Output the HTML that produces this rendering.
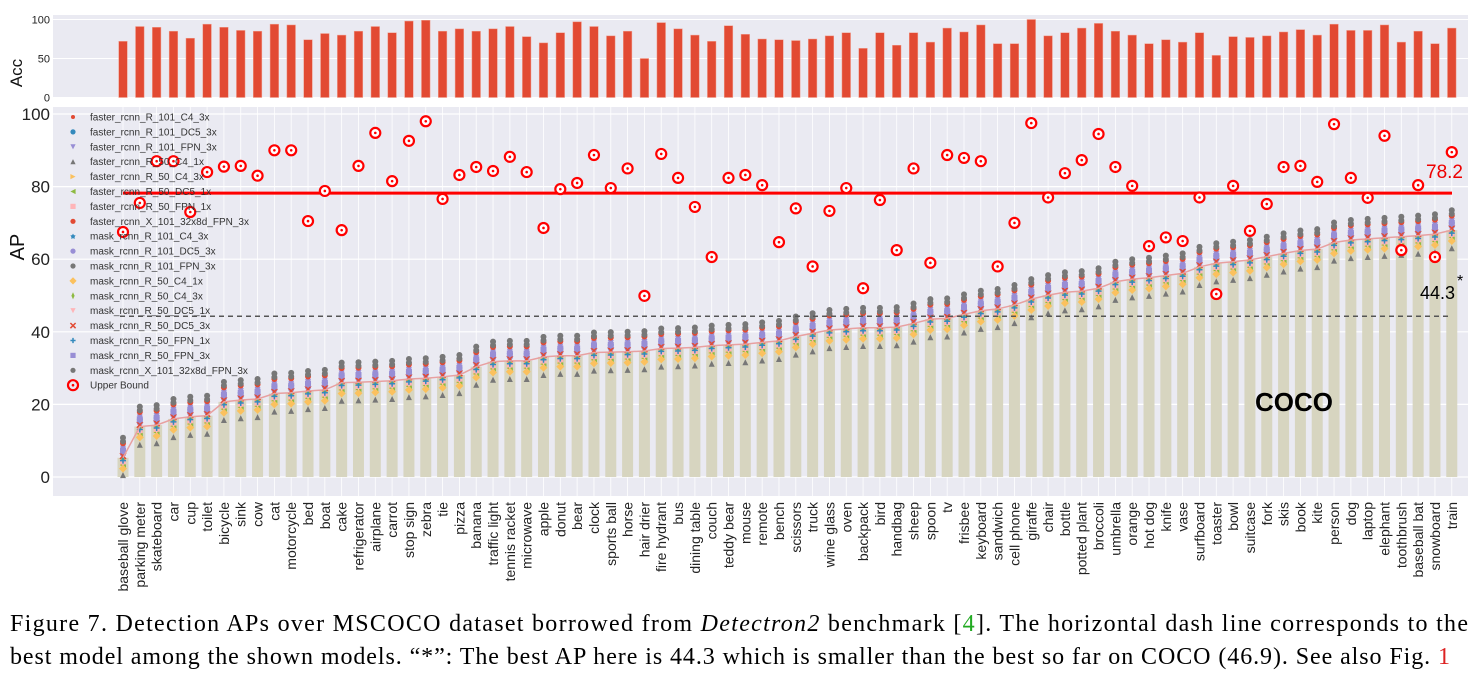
<!DOCTYPE html>
<html><head><meta charset="utf-8"><style>
html,body{margin:0;padding:0;background:#fff;}
svg{display:block;font-family:"Liberation Sans",sans-serif;}
</style></head><body>
<svg id="chart" width="1478" height="681" xmlns="http://www.w3.org/2000/svg">
<rect x="53" y="15" width="1415" height="83" fill="#eaeaf2"/>
<rect x="53" y="107" width="1415" height="389" fill="#eaeaf2"/>
<g id="grid"></g>
<g id="accbars"></g>
<g id="apbars"></g>
<g id="marks"></g>
<g id="axes"></g>
<g id="legend"></g>
<text x="22" y="73" font-size="17" text-anchor="middle" transform="rotate(-90 22 73)" fill="#111">Acc</text>
<text x="24" y="247" font-size="20" text-anchor="middle" transform="rotate(-90 24 247)" fill="#111">AP</text>
<text x="1255" y="411" font-size="26" font-weight="bold" fill="#000">COCO</text>
<text x="1420" y="299" font-size="18" fill="#000">44.3</text>
<text x="1457" y="286" font-size="16" fill="#000">*</text>
<text x="1426" y="178" font-size="19" fill="#e00">78.2</text>
<text x="10" y="631" font-size="24" font-family="Liberation Serif, serif" textLength="1458" lengthAdjust="spacing" fill="#000">Figure 7. Detection APs over MSCOCO dataset borrowed from <tspan font-style="italic">Detectron2</tspan> benchmark [<tspan fill="#2a2">4</tspan>]. The horizontal dash line corresponds to the</text>
<text x="10" y="664" font-size="24" font-family="Liberation Serif, serif" textLength="1440" lengthAdjust="spacing" fill="#000">best model among the shown models. “*”: The best AP here is 44.3 which is smaller than the best so far on COCO (46.9). See also Fig. <tspan fill="#d22">1</tspan></text>
</svg>
<script>
const categories=["baseball glove","parking meter","skateboard","car","cup","toilet","bicycle","sink","cow","cat","motorcycle","bed","boat","cake","refrigerator","airplane","carrot","stop sign","zebra","tie","pizza","banana","traffic light","tennis racket","microwave","apple","donut","bear","clock","sports ball","horse","hair drier","fire hydrant","bus","dining table","couch","teddy bear","mouse","remote","bench","scissors","truck","wine glass","oven","backpack","bird","handbag","sheep","spoon","tv","frisbee","keyboard","sandwich","cell phone","giraffe","chair","bottle","potted plant","broccoli","umbrella","orange","hot dog","knife","vase","surfboard","toaster","bowl","suitcase","fork","skis","book","kite","person","dog","laptop","elephant","toothbrush","baseball bat","snowboard","train"];
const accValues=[72,91,90,85,76,94,90,86,85,94,93,74,82,80,85,91,83,98,99,85,88,85,88,91,78,70,83,97,91,79,85,50,96,88,80,72,92,81,75,74,73,75,79,83,63,83,67,83,71,89,84,93,69,69,100,79,83,89,95,85,80,69,74,71,83,54,78,77,79,84,87,80,94,86,86,93,71,85,69,89];
const meanAP=[5.3,13.9,14.3,16,16.6,16.9,20.7,21.2,21.5,23,23.2,23.7,24,26,26.1,26.3,26.5,27,27.2,27.6,28.1,30.4,31.8,32,32,33.1,33.4,33.4,34.3,34.4,34.5,34.7,35.4,35.5,35.7,36.2,36.4,36.6,37.1,37.5,38.7,39.6,40.5,40.8,41.1,41.1,41.3,42.3,43.5,43.7,44.8,45.8,46.3,47.4,49,50.1,50.9,51.2,52,53.8,54.5,54.9,55.5,56.1,57.9,58.9,59.3,59.8,60.7,61.6,62.4,62.8,64.6,65.3,65.6,65.9,66.2,66.5,66.9,68];
const upperBound=[67.5,75.5,87,87,73,84,85.5,85.7,83,90,90,70.5,78.8,68,85.7,94.8,81.5,92.6,98,76.6,83.2,85.4,84.3,88.2,84,68.6,79.3,81,88.7,79.6,85,49.9,89,82.4,74.4,60.6,82.4,83.2,80.4,64.7,74,58,73.3,79.6,52,76.3,62.5,85,59,88.7,87.9,87,58,70,97.5,77,83.7,87.3,94.5,85.4,80.2,63.6,66,65,77,50.4,80.2,67.8,75.2,85.4,85.7,81.3,97.2,82.4,76.9,94,62.5,80.4,60.6,89.5];
const seriesNames=["faster_rcnn_R_101_C4_3x","faster_rcnn_R_101_DC5_3x","faster_rcnn_R_101_FPN_3x","faster_rcnn_R_50_C4_1x","faster_rcnn_R_50_C4_3x","faster_rcnn_R_50_DC5_1x","faster_rcnn_R_50_FPN_1x","faster_rcnn_X_101_32x8d_FPN_3x","mask_rcnn_R_101_C4_3x","mask_rcnn_R_101_DC5_3x","mask_rcnn_R_101_FPN_3x","mask_rcnn_R_50_C4_1x","mask_rcnn_R_50_C4_3x","mask_rcnn_R_50_DC5_1x","mask_rcnn_R_50_DC5_3x","mask_rcnn_R_50_FPN_1x","mask_rcnn_R_50_FPN_3x","mask_rcnn_X_101_32x8d_FPN_3x"];
const seriesOffset=[3,2,2.5,-5,-1.5,-2,-1,4,1.5,1,4.5,-3,-0.5,-1.5,0.5,-0.8,2,5.5];
const accTicks=[0,50,100];
const apTicks=[0,20,40,60,80,100];
const bestAP=44.3, ubMean=78.2;

const NS="http://www.w3.org/2000/svg";
const cx=i=>123+i*16.82;
const yAcc=v=>97.5-v*0.78;
const yAP=v=>477-v*3.63;
function mk(tag,attrs,parent){const e=document.createElementNS(NS,tag);for(const k in attrs)e.setAttribute(k,attrs[k]);parent.appendChild(e);return e;}
const G=id=>document.getElementById(id);
const colors=["#e24a33","#348abd","#988ed5","#777777","#fbc15e","#8eba42","#ffb5b8","#e24a33","#348abd","#988ed5","#777777","#fbc15e","#8eba42","#ffb5b8","#e24a33","#348abd","#988ed5","#777777"];
const shapes=["dot","circle","tdown","tup","tright","tleft","square","hex","star","circle","hex","diamond","thin","tdown","x","plus","square","hex"];

accTicks.forEach(t=>{const l=mk('line',{x1:53,x2:1468,y1:yAcc(t),y2:yAcc(t),stroke:'#fff','stroke-width':1},G('grid'));
 const tx=mk('text',{x:50,y:yAcc(t)+4,'font-size':11,'text-anchor':'end',fill:'#222'},G('axes'));tx.textContent=t;});
apTicks.forEach(t=>{const l=mk('line',{x1:53,x2:1468,y1:yAP(t),y2:yAP(t),stroke:'#fff','stroke-width':1.2},G('grid'));
 const tx=mk('text',{x:50,y:yAP(t)+6,'font-size':17,'text-anchor':'end',fill:'#222'},G('axes'));tx.textContent=t;});
categories.forEach((c,i)=>{const l=mk('line',{x1:cx(i),x2:cx(i),y1:107,y2:496,stroke:'#fff','stroke-width':0.8},G('grid'));
 const tx=mk('text',{x:0,y:0,'font-size':14,'text-anchor':'end',fill:'#222',transform:`translate(${cx(i)+5},502) rotate(-90)`},G('axes'));tx.textContent=c;});

accValues.forEach((v,i)=>{const r=mk('rect',{x:cx(i)-4.3,y:yAcc(v),width:8.6,height:yAcc(0)-yAcc(v),fill:'#e24a33',stroke:'#f0a090','stroke-width':0.5},G('accbars'));});
meanAP.forEach((v,i)=>{const r=mk('rect',{x:cx(i)-5.5,y:yAP(v),width:11,height:yAP(0)-yAP(v),fill:'#d7d5c0'},G('apbars'));});

function marker(shape,x,y,col,parent,s){
 s=s||3;let e;
 switch(shape){
 case 'dot':e=mk('circle',{cx:x,cy:y,r:2,fill:col},parent);break;
 case 'circle':e=mk('circle',{cx:x,cy:y,r:s,fill:col},parent);break;
 case 'hex':e=mk('circle',{cx:x,cy:y,r:s,fill:col},parent);break;
 case 'square':e=mk('rect',{x:x-s,y:y-s,width:2*s,height:2*s,fill:col},parent);break;
 case 'tup':e=mk('polygon',{points:`${x},${y-s} ${x-s},${y+s} ${x+s},${y+s}`,fill:col},parent);break;
 case 'tdown':e=mk('polygon',{points:`${x},${y+s} ${x-s},${y-s} ${x+s},${y-s}`,fill:col},parent);break;
 case 'tright':e=mk('polygon',{points:`${x+s},${y} ${x-s},${y-s} ${x-s},${y+s}`,fill:col},parent);break;
 case 'tleft':e=mk('polygon',{points:`${x-s},${y} ${x+s},${y-s} ${x+s},${y+s}`,fill:col},parent);break;
 case 'diamond':e=mk('polygon',{points:`${x},${y-s-1} ${x+s+1},${y} ${x},${y+s+1} ${x-s-1},${y}`,fill:col},parent);break;
 case 'thin':e=mk('polygon',{points:`${x},${y-s-1} ${x+s-1},${y} ${x},${y+s+1} ${x-s+1},${y}`,fill:col},parent);break;
 case 'star':e=mk('polygon',{points:`${x},${y-s} ${x+1},${y-1} ${x+s},${y-1} ${x+1.5},${y+1} ${x+2},${y+s} ${x},${y+2} ${x-2},${y+s} ${x-1.5},${y+1} ${x-s},${y-1} ${x-1},${y-1}`,fill:col},parent);break;
 case 'x':e=mk('path',{d:`M${x-s} ${y-s}L${x+s} ${y+s}M${x-s} ${y+s}L${x+s} ${y-s}`,stroke:col,'stroke-width':1.5},parent);break;
 case 'plus':e=mk('path',{d:`M${x-s} ${y}L${x+s} ${y}M${x} ${y-s}L${x} ${y+s}`,stroke:col,'stroke-width':1.5},parent);break;
 }
 return e;
}
seriesOffset.forEach((off,s)=>{meanAP.forEach((v,i)=>{const e=marker(shapes[s],cx(i),yAP(Math.max(0.5,v+off)),colors[s],G('marks'));});});
const pl=mk('polyline',{points:meanAP.map((v,i)=>`${cx(i)},${yAP(v)}`).join(' '),fill:'none',stroke:'#e8a0a0','stroke-width':1.5},G('marks'));

const dl=mk('line',{x1:120,x2:1452,y1:yAP(bestAP),y2:yAP(bestAP),stroke:'#555','stroke-width':1.5,'stroke-dasharray':'5,4'},G('marks'));

const rl=mk('line',{x1:123,x2:1452,y1:yAP(ubMean),y2:yAP(ubMean),stroke:'#f00','stroke-width':3},G('marks'));

upperBound.forEach((v,i)=>{const g=mk('g',{},G('marks'));
 mk('circle',{cx:cx(i),cy:yAP(v),r:5,fill:'#fff',stroke:'#f00','stroke-width':2.2},g);mk('circle',{cx:cx(i),cy:yAP(v),r:1.3,fill:'#f00'},g);});
const names=seriesNames.concat(["Upper Bound"]);
names.forEach((n,k)=>{const y=117+k*14.9;const g=mk('g',{},G('legend'));
 if(k<18){marker(shapes[k],73,y,colors[k],g,2.6);}else{mk('circle',{cx:73,cy:y,r:5,fill:'none',stroke:'#f00','stroke-width':2.2},g);mk('circle',{cx:73,cy:y,r:1.3,fill:'#f00'},g);}
 const t=mk('text',{x:90,y:y+3.5,'font-size':10,fill:'#333'},g);t.textContent=n;});
</script>
</body></html>
